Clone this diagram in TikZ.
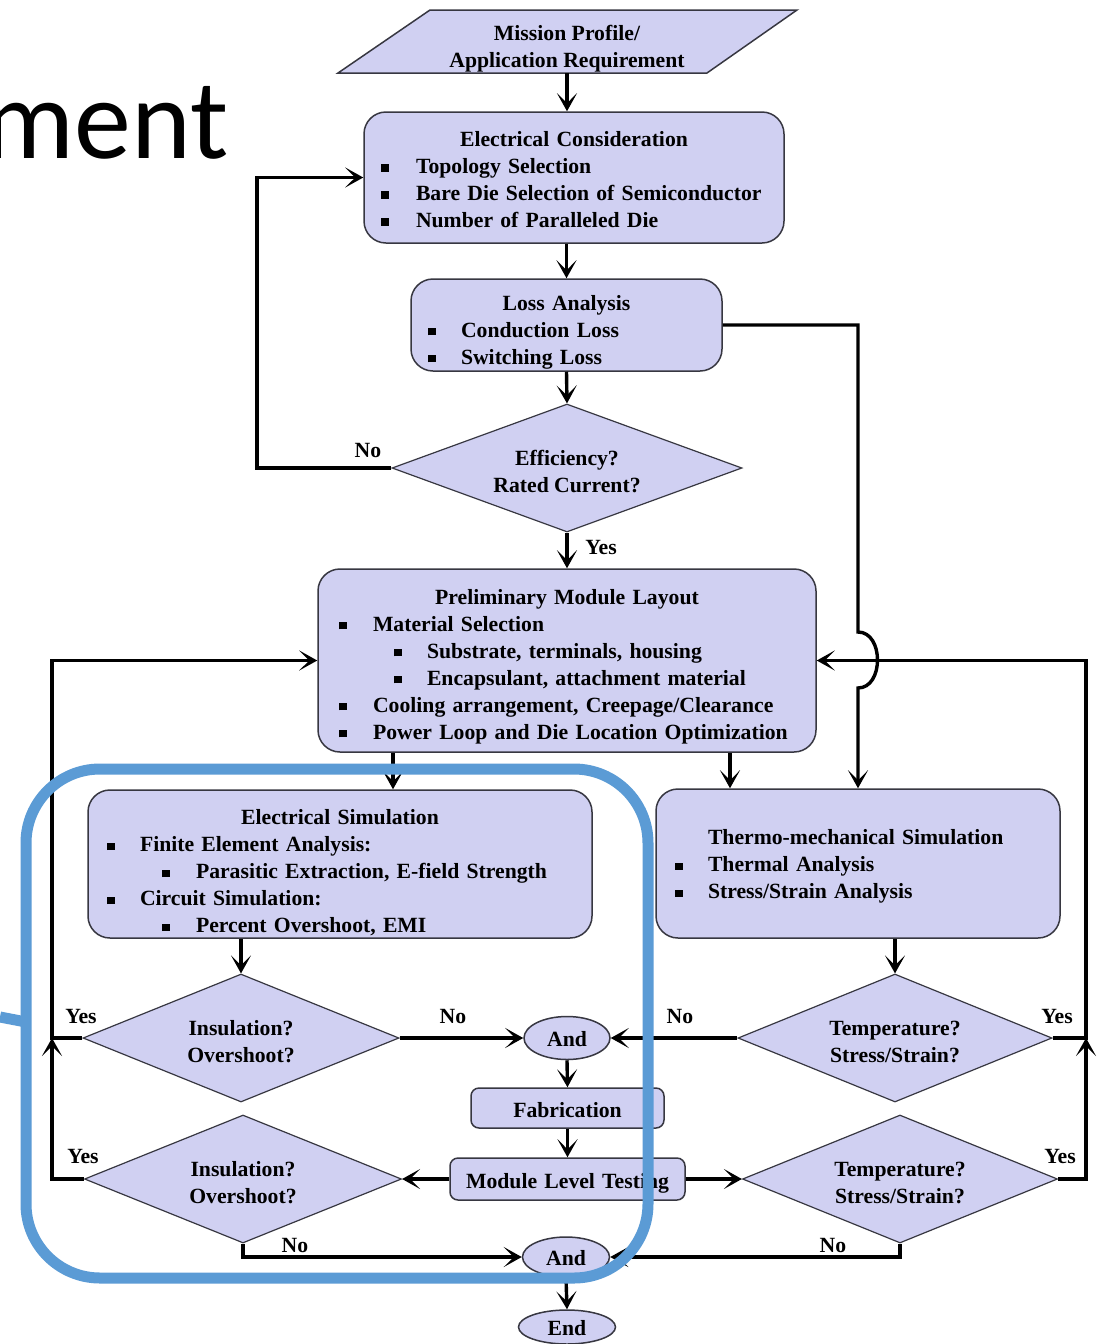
\documentclass[tikz,border=0pt]{standalone}
\usepackage{fontspec}
\setmainfont{Liberation Serif}
\newfontfamily\slidefont{Carlito}
\usetikzlibrary{shapes.geometric,arrows.meta,calc}

\definecolor{boxfill}{RGB}{208,208,242}
\definecolor{boxline}{RGB}{55,55,65}
\definecolor{calloutblue}{RGB}{91,155,213}

\newcommand\txtfont{\fontsize{10.85}{13.5}\selectfont\bfseries}
% square bullet, and a bullet line: bullet centre offset, text offset (pt), text
\newcommand\bsq{\rule[0.9pt]{3.6pt}{3.6pt}}
\newcommand\bitem[3]{\makebox[0pt][l]{\hspace*{\dimexpr#1pt-1.8pt\relax}\bsq}\hspace*{#2pt}#3}
\newcommand\ctitle[1]{\makebox[\linewidth]{#1}}
% invisible strut that lifts the first line, pushing the centred block down
\newcommand\up[1]{\rule{0pt}{#1pt}}

\begin{document}
\begin{tikzpicture}[x=0.5pt,y=-0.5pt,
  box/.style={draw=boxline, line width=0.75pt, fill=boxfill, rounded corners=11pt,
    inner sep=0pt, align=left, font=\txtfont},
  dec/.style={diamond, aspect=2.5, draw=boxline, line width=0.6pt, fill=boxfill,
    inner sep=0pt, align=center, font=\txtfont},
  andnode/.style={ellipse, draw=boxline, line width=0.75pt, fill=boxfill,
    inner sep=0pt, font=\txtfont},
  conn/.style={line width=1.7pt, -{Stealth[length=9pt,width=10pt,inset=5pt]}},
  lbl/.style={inner sep=0pt, font=\txtfont}]

\useasboundingbox (0,0) rectangle (1097,1344);
\fill[white] (0,0) rectangle (1097,1344);

% slide title fragment
\node[anchor=base east, inner sep=0pt, font=\slidefont\fontsize{57}{58}\selectfont] (slidetitle) at (229,158) {ment};

% input parallelogram
\filldraw[fill=boxfill, draw=boxline, line width=0.75pt] (338,73) -- (430,10) -- (797,10) -- (707,73) -- cycle;
\node[lbl, align=center] (mission) at (567,49) {Mission Profile/\\Application Requirement};
\coordinate (missionbot) at (567,73);

% process boxes
\node[box, text width=210pt, minimum height=65.5pt] (ec) at (574,177.5)
  {\ctitle{\up{9.5}Electrical Consideration}\\
   \bitem{10.5}{26}{Topology Selection}\\
   \bitem{10.5}{26}{Bare Die Selection of Semiconductor}\\
   \bitem{10.5}{26}{Number of Paralleled Die}};

\node[box, text width=155.5pt, minimum height=46pt] (loss) at (566.5,325)
  {\ctitle{\up{14.5}Loss Analysis}\\
   \bitem{10.5}{25}{Conduction Loss}\\
   \bitem{10.5}{25}{Switching Loss}};

\node[dec, minimum width=175pt, minimum height=64pt] (eff) at (567,468) {\up{11.5}Efficiency?\\Rated Current?};

\node[box, text width=249pt, minimum height=91.5pt] (prelim) at (567,660.5)
  {\ctitle{\up{13.5}Preliminary Module Layout}\\
   \bitem{12.5}{27.5}{Material Selection}\\
   \bitem{40}{54.5}{Substrate, terminals, housing}\\
   \bitem{40}{54.5}{Encapsulant, attachment material}\\
   \bitem{12.5}{27.5}{Cooling arrangement, Creepage/Clearance}\\
   \bitem{12.5}{27.5}{Power Loop and Die Location Optimization}};

\node[box, text width=252pt, minimum height=74pt] (esim) at (340,864)
  {\ctitle{\up{16.5}Electrical Simulation}\\
   \bitem{11.5}{26}{Finite Element Analysis:}\\
   \bitem{39}{54}{Parasitic Extraction, E-field Strength}\\
   \bitem{11.5}{26}{Circuit Simulation:}\\
   \bitem{39}{54}{Percent Overshoot, EMI}};

\node[box, text width=202pt, minimum height=74.5pt] (tsim) at (858,863.5)
  {\hspace*{26pt}\up{10.5}Thermo-mechanical Simulation\\
   \bitem{11.5}{26}{Thermal Analysis}\\
   \bitem{11.5}{26}{Stress/Strain Analysis}};

\node[dec, minimum width=158pt, minimum height=64pt] (ins1) at (241,1038) {\up{11.5}Insulation?\\Overshoot?};
\node[dec, minimum width=157pt, minimum height=64pt] (tmp1) at (895,1038) {\up{11.5}Temperature?\\Stress/Strain?};
\node[andnode, minimum width=43pt, minimum height=21.5pt] (and1) at (567,1038) {\up{9}And};

\node[box, rounded corners=4pt, text width=96.5pt, minimum height=20pt, align=center] (fab) at (567.5,1108) {\up{9.5}Fabrication};
\node[box, rounded corners=4pt, text width=117.5pt, minimum height=21pt, align=center] (mlt) at (567.5,1179) {\up{11.5}Module Level Testing};

\node[dec, minimum width=158.5pt, minimum height=64pt] (ins2) at (243,1179) {\up{11.5}Insulation?\\Overshoot?};
\node[dec, minimum width=157.5pt, minimum height=64pt] (tmp2) at (900,1179) {\up{11.5}Temperature?\\Stress/Strain?};
\node[andnode, minimum width=43.5pt, minimum height=20pt] (and2) at (566,1257) {\up{9}And};
\node[andnode, minimum width=48.5pt, minimum height=17pt] (endn) at (567,1327) {\up{9}End};

\coordinate (ljoin) at (52,1038);
\coordinate (rjoin) at (1086,1038);

% connectors
\draw[conn] (missionbot) -- (missionbot |- ec.north);
\draw[conn] (ec.south -| loss.north) -- (loss.north);
\draw[conn] (loss.south) -- (eff.north);
\draw[conn] (eff.south) -- (prelim.north);
\draw[conn] (eff.west) -- (257,468) |- (ec.west);
\draw[conn] (loss.east) -| (858,632) .. controls (884,632) and (884,688) .. (858,688) -- (tsim.north);
\draw[conn] ([xshift=-87pt]prelim.south) -- ([xshift=-87pt]prelim.south |- esim.north);
\draw[conn] ([xshift=81.5pt]prelim.south) -- ([xshift=81.5pt]prelim.south |- tsim.north);
\draw[conn] (esim.south -| ins1.north) -- (ins1.north);
\draw[conn] (tsim.south -| tmp1.north) -- (tmp1.north);
\draw[conn] (ins1.east) -- (and1.west);
\draw[conn] (tmp1.west) -- (and1.east);
\draw[conn] (ins1.west) -- (ljoin) |- (prelim.west);
\draw[conn] (tmp1.east) -- (rjoin) |- (prelim.east);
\draw[conn] (and1.south) -- (fab.north);
\draw[conn] (fab.south) -- (mlt.north);
\draw[conn] (mlt.west) -- (ins2.east);
\draw[conn] (mlt.east) -- (tmp2.west);
\draw[conn] (ins2.west) -| (ljoin);
\draw[conn] (tmp2.east) -| (rjoin);
\draw[conn] (ins2.south) |- (and2.west);
\draw[conn] (tmp2.south) |- (and2.east);
\draw[conn] (and2.south) -- (endn.north);

% branch labels
\node[lbl] (no1) at (368,450) {No};
\node[lbl] (yes1) at (601,547) {Yes};
\node[lbl] (yes2) at (81,1016) {Yes};
\node[lbl] (no2) at (453,1016) {No};
\node[lbl] (no3) at (680,1016) {No};
\node[lbl] (yes3) at (1057,1016) {Yes};
\node[lbl] (yes4) at (83,1156) {Yes};
\node[lbl] (yes5) at (1060,1156) {Yes};
\node[lbl] (no4) at (295,1245) {No};
\node[lbl] (no5) at (833,1245) {No};

% highlight frame
\draw[calloutblue, line width=5.5pt, rounded corners=37pt] (26,769) rectangle (648,1278);
\draw[calloutblue, line width=5.5pt] (0,1017) -- (26,1022);
\end{tikzpicture}
\end{document}
